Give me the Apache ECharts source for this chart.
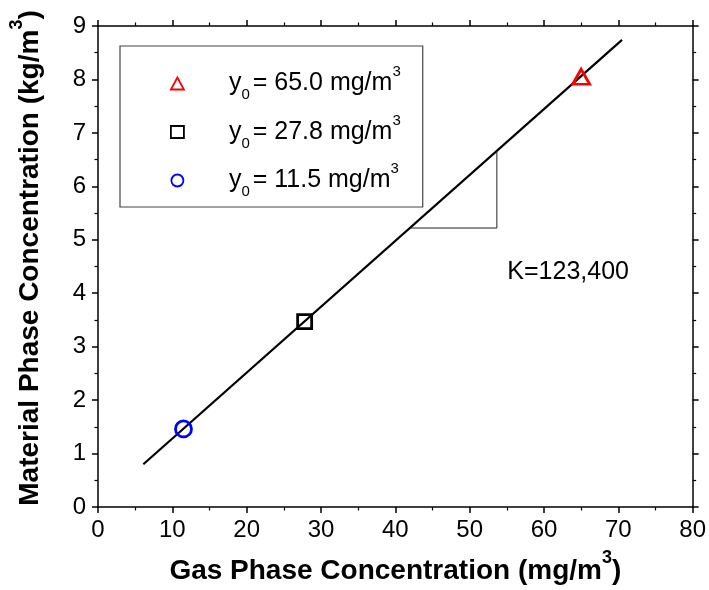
<!DOCTYPE html>
<html>
<head>
<meta charset="utf-8">
<script src="https://cdn.jsdelivr.net/npm/echarts@6/dist/echarts.min.js"></script>
<style>
html,body{margin:0;padding:0;background:#fff;}
#chart{width:709px;height:590px;}
</style>
</head>
<body>
<div id="chart"></div>
<script>
// ---- data ----
const seriesLabels = ['65.0', '27.8', '11.5'];          // y0 values shown in legend
const gasConc      = [65.0, 27.8, 11.5];                // x (mg/m3)
const materialConc = [8.05, 3.47, 1.46];                // y (kg/m3)
const seriesColors = ['#ff0000', '#000000', '#0000ff'];
const seriesSymbols = ['triangle', 'rect', 'circle'];
const fitX = [6.1, 70.5];
const fitY = [0.80, 8.74];
const slopeX = [42.0, 53.66, 53.66];
const slopeY = [5.22, 5.22, 6.66];
const kText = 'K=123,400';
const kPos = [55.07, 4.40];
const xRange = [0, 80, 10];
const yRange = [0, 9, 1];

const FONT = "'Liberation Sans', Arial, sans-serif";

const chart = echarts.init(document.getElementById('chart'), null, {renderer: 'canvas'});

function pairs(xs, ys) { return xs.map((x, i) => [x, ys[i]]); }

const axisCommon = {
  type: 'value',
  splitLine: {show: false},
  axisLine: {show: true, onZero: false, lineStyle: {color: '#000', width: 1.5}},
  axisTick: {show: true, inside: false, length: 6, lineStyle: {color: '#000', width: 1.5}},
  minorTick: {show: true, splitNumber: 2, length: 3.5, lineStyle: {color: '#000', width: 1.2}},
  minorSplitLine: {show: false}
};

const symbolSizes = [[17, 15], 14, 16];

const scatterSeries = gasConc.map((x, i) => ({
  type: 'scatter',
  name: seriesLabels[i],
  data: [[x, materialConc[i]]],
  symbol: seriesSymbols[i],
  symbolSize: symbolSizes[i],
  itemStyle: {color: 'rgba(0,0,0,0)', borderColor: seriesColors[i], borderWidth: 2.8, opacity: 1},
  z: 3
}));

const titleRich = {
  b: {fontSize: 28, fontWeight: 'bold', fontFamily: FONT, color: '#000', lineHeight: 44},
  s: {fontSize: 18, fontWeight: 'bold', fontFamily: FONT, color: '#000', lineHeight: 18, verticalAlign: 'top'}
};

const option = {
  animation: false,
  backgroundColor: '#fff',
  grid: {left: 96, right: 12, top: 26, bottom: 82, containLabel: false},
  xAxis: [
    Object.assign({}, axisCommon, {
      position: 'bottom', min: xRange[0], max: xRange[1], interval: xRange[2],
      axisLabel: {show: true, fontSize: 24, color: '#000', fontFamily: FONT, margin: 11},
      name: '{b|Gas Phase Concentration (mg/m}{s|3}{b|)}',
      nameLocation: 'middle', nameGap: 42,
      nameTextStyle: {rich: titleRich}
    }),
    Object.assign({}, axisCommon, {
      position: 'top', min: xRange[0], max: xRange[1], interval: xRange[2],
      axisLabel: {show: false}
    })
  ],
  yAxis: [
    Object.assign({}, axisCommon, {
      position: 'left', min: yRange[0], max: yRange[1], interval: yRange[2],
      axisLabel: {show: true, fontSize: 24, color: '#000', fontFamily: FONT, margin: 12},
      name: '{b|Material Phase Concentration (kg/m}{s|3}{b|)}',
      nameLocation: 'middle', nameGap: 46,
      nameTextStyle: {padding: [0, 0, 0, 17], rich: titleRich}
    }),
    Object.assign({}, axisCommon, {
      position: 'right', min: yRange[0], max: yRange[1], interval: yRange[2],
      axisLabel: {show: false}
    })
  ],
  legend: {
    show: true,
    orient: 'vertical',
    left: 120, top: 46,
    data: seriesLabels,
    selectedMode: false,
    itemWidth: 13, itemHeight: 12,
    itemGap: 10.5,
    padding: [18.5, 22, 7.5, 50],
    borderColor: '#444', borderWidth: 1.2,
    backgroundColor: '#fff',
    itemStyle: {borderWidth: 1.8},
    formatter: v => '{a|y}{sub|0}{a|= ' + v + ' mg/m}{sup|3}',
    textStyle: {
      padding: [0, 0, 0, 40],
      color: '#000',
      fontFamily: FONT,
      rich: {
        a: {fontSize: 25, fontFamily: FONT, color: '#000', lineHeight: 38},
        sub: {fontSize: 15, fontFamily: FONT, color: '#000', lineHeight: 15, verticalAlign: 'bottom', padding: [0, 3, 0, 0]},
        sup: {fontSize: 15, fontFamily: FONT, color: '#000', lineHeight: 15, verticalAlign: 'top'}
      }
    }
  },
  series: [
    {
      type: 'line', name: 'fit', data: pairs(fitX, fitY),
      showSymbol: false, symbol: 'none', silent: true,
      lineStyle: {color: '#000', width: 2.2}, z: 2
    },
    {
      type: 'line', name: 'slope', data: pairs(slopeX, slopeY),
      showSymbol: false, symbol: 'none', silent: true,
      lineStyle: {color: '#222', width: 1}, z: 2
    },
    ...scatterSeries,
    {
      type: 'scatter', name: 'K', data: [kPos], symbolSize: 0, silent: true,
      itemStyle: {color: '#000', opacity: 1},
      label: {show: true, position: 'right', distance: 0, formatter: kText, opacity: 1,
              fontSize: 25, fontFamily: FONT, color: '#000'}
    }
  ]
};

chart.setOption(option);
</script>
</body>
</html>
